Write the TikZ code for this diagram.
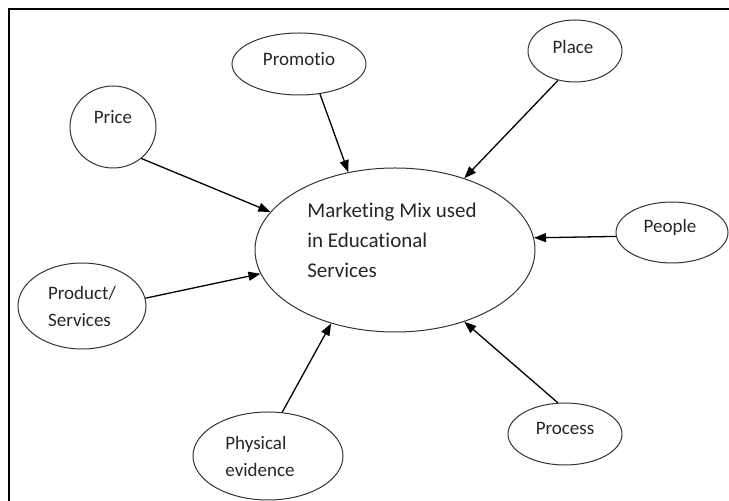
\documentclass[tikz,border=0pt]{standalone}
\usepackage{fontspec}
\setmainfont{Carlito}[Ligatures=NoCommon]
\usetikzlibrary{shapes.geometric, arrows.meta}

\begin{document}
\begin{tikzpicture}[x=0.5pt, y=-0.5pt,
  bubble/.style={draw=black!80, line width=0.5pt, ellipse, inner sep=0pt},
  tag/.style={font=\fontsize{9.5}{13.5}\selectfont, text=black!85, align=left},
  feed/.style={-{Triangle[length=6pt, width=4.5pt]}, line width=0.65pt}]
\useasboundingbox (0,0) rectangle (729,501);
\draw[line width=0.7pt] (9,501) |- (729,9);
% central ellipse
\node[bubble, minimum width=140pt, minimum height=82pt,
  label={[tag, font=\fontsize{10.5}{15}\selectfont, xshift=-1.5pt, yshift=5pt]center:Marketing Mix used\\in Educational\\Services}] (mix) at (395,250) {};
% the seven Ps
\node[bubble, minimum width=43pt, minimum height=41pt, label={[tag, yshift=5pt]center:Price}] (price) at (113,127) {};
\node[bubble, minimum width=67pt, minimum height=31pt, label={[tag, yshift=2.5pt]center:Promotio}] (promo) at (299,64) {};
\node[bubble, minimum width=47pt, minimum height=31pt, label={[tag, xshift=-1pt, yshift=2pt]center:Place}] (place) at (575,51) {};
\node[bubble, minimum width=56pt, minimum height=30.5pt, label={[tag, xshift=-1pt, yshift=2.5pt]center:People}] (people) at (672,232.5) {};
\node[bubble, minimum width=64pt, minimum height=43pt, label={[tag]center:Product/\\Services}] (prod) at (82,306) {};
\node[bubble, minimum width=75pt, minimum height=44pt, label={[tag, xshift=-4pt]center:Physical\\evidence}] (phys) at (268,456) {};
\node[bubble, minimum width=57pt, minimum height=31pt, label={[tag, yshift=3pt]center:Process}] (proc) at (565,434) {};
% arrows into the centre
\draw[feed] (price.-48) -- (mix.163);
\draw[feed] (promo.-55) -- (mix.121);
\draw[feed] (place.-120) -- (mix.46);
\draw[feed] (people.184) -- (mix.5);
\draw[feed] (proc.103) -- (mix.-46);
\draw[feed] (phys.72) -- (mix.-131);
\draw[feed] (prod.7) -- (mix.190);
\end{tikzpicture}
\end{document}
